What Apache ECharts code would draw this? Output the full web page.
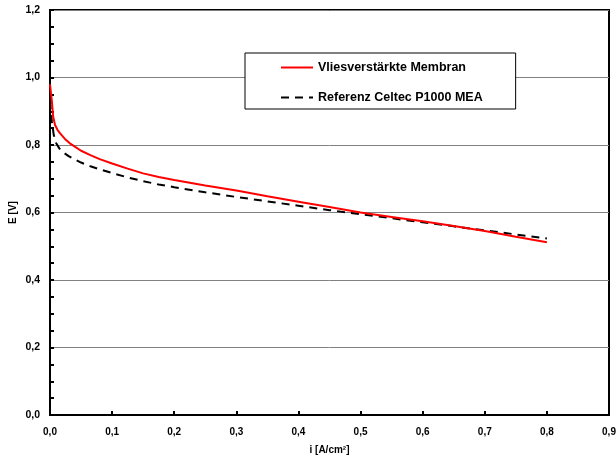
<!DOCTYPE html>
<html><head><meta charset="utf-8">
<script src="https://cdn.jsdelivr.net/npm/echarts@6/dist/echarts.min.js"></script>
<style>html,body{margin:0;padding:0;background:#fff}#c{width:616px;height:459px}</style>
</head><body><div id="c"></div>
<script>
var seriesNames = ['Vliesverstärkte Membran', 'Referenz Celtec P1000 MEA'];
var xTicks = [0, 0.1, 0.2, 0.3, 0.4, 0.5, 0.6, 0.7, 0.8, 0.9];
var yTicks = [0, 0.2, 0.4, 0.6, 0.8, 1.0, 1.2];
var iRed = [0, 0.003, 0.005, 0.008, 0.012, 0.016, 0.024, 0.032, 0.04, 0.05, 0.065, 0.08, 0.1, 0.125, 0.15, 0.175, 0.2, 0.25, 0.3, 0.35, 0.4, 0.45, 0.5, 0.55, 0.6, 0.65, 0.7, 0.75, 0.8];
var eRed = [0.98, 0.93, 0.885, 0.86, 0.845, 0.835, 0.818, 0.805, 0.795, 0.783, 0.77, 0.758, 0.745, 0.73, 0.716, 0.705, 0.696, 0.68, 0.665, 0.648, 0.632, 0.616, 0.6, 0.587, 0.574, 0.56, 0.545, 0.528, 0.512];
var iBlack = [0, 0.003, 0.006, 0.01, 0.015, 0.02, 0.03, 0.04, 0.05, 0.065, 0.08, 0.1, 0.125, 0.15, 0.175, 0.2, 0.25, 0.3, 0.35, 0.4, 0.45, 0.5, 0.55, 0.6, 0.65, 0.7, 0.75, 0.8];
var eBlack = [0.93, 0.87, 0.83, 0.805, 0.79, 0.78, 0.767, 0.757, 0.748, 0.737, 0.728, 0.717, 0.704, 0.693, 0.683, 0.675, 0.66, 0.646, 0.633, 0.62, 0.607, 0.595, 0.583, 0.571, 0.559, 0.547, 0.535, 0.523];

function zip(a, b) { return a.map(function (v, k) { return [v, b[k]]; }); }
function fmt(v) { return v.toFixed(1).replace('.', ','); }
var font = 'Liberation Sans, Arial, sans-serif';

var chart = echarts.init(document.getElementById('c'), null, {renderer: 'canvas'});
chart.setOption({
  animation: false,
  backgroundColor: '#fff',
  grid: {left: 50, right: 7, top: 10, bottom: 44, containLabel: false, outerBoundsMode: 'none',
         show: true, borderColor: '#000', borderWidth: 2, backgroundColor: 'transparent'},
  legend: {
    left: 245, top: 53, orient: 'vertical',
    backgroundColor: '#fff', borderColor: '#000', borderWidth: 1,
    padding: [8, 33, 5, 35], itemGap: 17, itemWidth: 32, itemHeight: 14,
    itemStyle: {color: 'transparent', borderWidth: 0, opacity: 0},
    textStyle: {fontFamily: font, fontWeight: 'bold', fontSize: 12.5, color: '#000'},
    data: seriesNames
  },
  xAxis: {
    type: 'value', min: xTicks[0], max: xTicks[xTicks.length - 1], interval: 0.1,
    name: 'i [A/cm²]', nameLocation: 'middle', nameGap: 30, nameMoveOverlap: false,
    nameTextStyle: {fontFamily: font, fontWeight: 'bold', fontSize: 10, color: '#000'},
    axisLine: {lineStyle: {color: '#000', width: 2}},
    axisTick: {inside: true, length: 4, lineStyle: {color: '#000', width: 2}},
    axisLabel: {margin: 12, formatter: fmt, fontFamily: font, fontWeight: 'bold', fontSize: 10, color: '#000', showMaxLabel: true, hideOverlap: false},
    splitLine: {show: false}
  },
  yAxis: {
    type: 'value', min: yTicks[0], max: yTicks[yTicks.length - 1], interval: 0.2,
    name: 'E [V]', nameLocation: 'middle', nameGap: 32, nameRotate: 90, nameMoveOverlap: false,
    nameTextStyle: {fontFamily: font, fontWeight: 'bold', fontSize: 10, color: '#000'},
    axisLine: {lineStyle: {color: '#000', width: 2}},
    axisTick: {inside: true, length: 4, lineStyle: {color: '#000', width: 2}},
    minorTick: {show: true, splitNumber: 4, length: 4, lineStyle: {color: '#000', width: 2}},
    axisLabel: {margin: 10, formatter: fmt, fontFamily: font, fontWeight: 'bold', fontSize: 10.5, color: '#000'},
    splitLine: {show: true, lineStyle: {color: '#808080', width: 1}}
  },
  series: [
    {name: seriesNames[0], type: 'line', data: zip(iRed, eRed), symbol: 'none', smooth: false,
     lineStyle: {color: '#ff0000', width: 2}, itemStyle: {color: '#ff0000'}, z: 3},
    {name: seriesNames[1], type: 'line', data: zip(iBlack, eBlack), symbol: 'none', smooth: false,
     lineStyle: {color: '#000', width: 2, type: [8, 6]}, itemStyle: {color: '#000'}, z: 2}
  ]
});
</script></body></html>
